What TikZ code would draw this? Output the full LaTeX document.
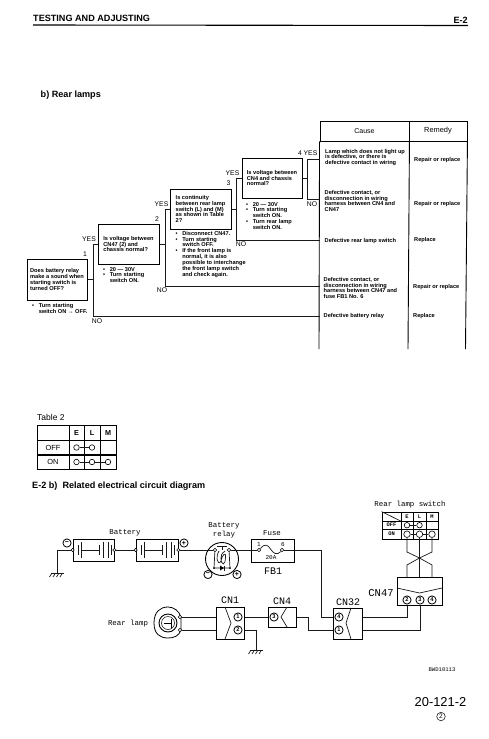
\documentclass[tikz,border=0pt]{standalone}
\usepackage{fontspec}
\setmainfont{Liberation Sans}
\newfontfamily\monof{Liberation Mono}
\newcommand{\blt}{\makebox[6.6pt][l]{•}}
\newcommand{\ind}{\hspace*{6.6pt}}
\newcommand{\gnd}[2]{%
  \draw[wire] (#1-6,#2) -- (#1+7,#2);
  \foreach \k in {-5,-1.5,2,5.5} \draw[wire] (#1+\k,#2) -- (#1+\k-2.5,#2+4);
}
\newcommand{\batplates}[2]{%
  \begin{scope}[shift={(#1,#2)},wire]
    \draw (5,-5) -- (5,5); \draw[line width=1pt] (8,-8) -- (8,8);
    \draw (8,0) -- (26,0);
    \draw (26,-5) -- (26,5); \draw[line width=1pt] (30,-8) -- (30,8);
    \draw (35,-8) -- (35,8); \draw[line width=1pt] (38,-5) -- (38,5);
  \end{scope}}
\tikzset{
  x=1pt,y=-1pt,
  wire/.style={line width=.7pt,black!90},
  flow/.style={line width=.8pt,black!90},
  qbox/.style={draw,line width=1pt,inner sep=0pt,font=\qfont,align=left,anchor=center},
  qtext/.style={font=\qfont,align=left,anchor=north west,inner sep=0pt},
  rowtext/.style={font=\qfont,align=left,anchor=west,inner sep=0pt},
  tag/.style={font=\fontsize{6.8}{7}\selectfont,inner sep=0pt},
  head/.style={font=\fontsize{9.1}{10}\selectfont\bfseries,inner sep=0pt},
  mono/.style={font=\fontsize{7.4}{8}\selectfont\monof,inner sep=0pt},
  cnlab/.style={font=\fontsize{10}{11}\selectfont\monof,inner sep=0pt},
  pin/.style={circle,draw,line width=.8pt,fill=white,inner sep=0pt,minimum size=8.2pt,font=\fontsize{5.6}{6}\selectfont\bfseries},
  term/.style={circle,draw,line width=.55pt,fill=white,inner sep=0pt,minimum size=3.3pt},
  sw/.style={circle,draw,line width=.6pt,fill=white,inner sep=0pt,minimum size=#1},
  cn/.style={draw,line width=.8pt,inner sep=0pt,anchor=north west},
  tb/.style={draw,line width=.8pt,inner sep=0pt,anchor=center,font=\fontsize{7.4}{8}\selectfont},
  tbs/.style={draw,line width=.75pt,inner sep=0pt,anchor=center,font=\fontsize{5.4}{6}\selectfont\monof\bfseries},
}
\newcommand{\qfont}{\fontsize{5.65}{5.85}\selectfont\bfseries}
\begin{document}
\begin{tikzpicture}
\useasboundingbox (0,0) rectangle (489,739);
% header
\node[head,anchor=west] (title) at (33,18.5) {TESTING AND ADJUSTING};
\node[head,anchor=east] (sec) at (468,20) {E-2};
\coordinate (hl) at (33,25); \coordinate (hr) at (468,25.5);
\draw[line width=1.1pt] (hl) -- (hr);
\node[head,anchor=west] (sub) at (40.5,95.5) {b) Rear lamps};
% table cause / remedy
\node[draw,line width=.9pt,minimum width=89,minimum height=20,inner sep=0pt,font=\fontsize{7}{7}\selectfont] (cause) at (364.5,131) {Cause};
\node[draw,line width=.9pt,minimum width=58,minimum height=20,inner sep=0pt,font=\fontsize{7.4}{7}\selectfont] (remedy) at (438,131) {Remedy};
\coordinate (bl) at (319,349); \coordinate (bm) at (408,349); \coordinate (br) at (465.5,349);
\draw[line width=.9pt] (cause.south west) -- (bl);
\draw[line width=.9pt] (cause.south east) -- (bm);
\draw[line width=.9pt] (remedy.south east) -- (br);
% question boxes
\node[qbox,minimum width=60,minimum height=41] (q1) at (57,279.5) {Does battery relay\\make a sound when\\starting switch is\\turned OFF?};
\node[qbox,minimum width=61,minimum height=40] (q2) at (128.5,244) {Is voltage between\\CN47 (2) and\\chassis normal?};
\node[qbox,minimum width=61,minimum height=40] (q3) at (200.5,209) {Is continuity\\between rear lamp\\switch (L) and (M)\\as shown in Table\\2?};
\node[qbox,minimum width=60,minimum height=40] (q4) at (272,178) {Is voltage between\\CN4 and chassis\\normal?};
% notes
\node[qtext] (n1) at (32,303) {\blt Turn starting\\\ind switch ON → OFF.};
\node[qtext] (n2) at (103,267) {\blt 20 — 30V\\\blt Turn starting\\\ind switch ON.};
\node[qtext] (n3) at (175.5,231) {\blt Disconnect CN47.\\\blt Turn starting\\\ind switch OFF.\\\blt If the front lamp is\\\ind normal, it is also\\\ind possible to interchange\\\ind the front lamp switch\\\ind and check again.};
\node[qtext] (n4) at (246,202) {\blt 20 — 30V\\\blt Turn starting\\\ind switch ON.\\\blt Turn rear lamp\\\ind switch ON.};
% flow connectors
\coordinate (j1) at (93,316); \coordinate (j2) at (165,286); \coordinate (j3) at (236,240);
\coordinate (j4y) at (307,159); \coordinate (j4n) at (307,199);
\draw[flow] (q1.east) -- (q1.east -| j1);
\draw[flow] (q2.west) -| (j1) -- (j1 -| cause.west);
\draw[flow] (q2.east) -- (q2.east -| j2);
\draw[flow] (q3.west) -| (j2) -- (j2 -| cause.west);
\draw[flow] (q3.east) -- (q3.east -| j3);
\draw[flow] (q4.west) -| (j3) -- (j3 -| cause.west);
\draw[flow] (q4.east) -- (q4.east -| j4y);
\draw[flow] (j4y -| cause.west) -- (j4y) -- (j4n) -- (j4n -| cause.west);
% flow labels
\node[tag] (y1) at (89,239) {YES}; \node[tag] (k1) at (85,254.5) {1}; \node[tag] (no1) at (97,321) {NO};
\node[tag] (y2) at (161.5,204) {YES}; \node[tag] (k2) at (157,219) {2}; \node[tag] (no2) at (162,290.5) {NO};
\node[tag] (y3) at (232.5,173) {YES}; \node[tag] (k3) at (228.5,183) {3}; \node[tag] (no3) at (241,244.5) {NO};
\node[tag,anchor=east] (y4) at (317.5,153) {4 YES}; \node[tag] (no4) at (312,204.5) {NO};
% causes
\node[rowtext] (c1) at (325,157.5) {Lamp which does not light up\\is defective, or there is\\defective contact in wiring};
\node[rowtext] (c2) at (324.5,201) {Defective contact, or\\disconnection in wiring\\harness between CN4 and\\CN47};
\node[rowtext] (c3) at (324.5,241) {Defective rear lamp switch};
\node[rowtext] (c4) at (323.5,288) {Defective contact, or\\disconnection in wiring\\harness between CN47 and\\fuse FB1 No. 6};
\node[rowtext] (c5) at (323.5,316.5) {Defective battery relay};
\node[rowtext] (r1) at (414,160) {Repair or replace};
\node[rowtext] (r2) at (414,204) {Repair or replace};
\node[rowtext] (r3) at (414,240) {Replace};
\node[rowtext] (r4) at (413,287) {Repair or replace};
\node[rowtext] (r5) at (413,316) {Replace};
% table 2
\node[anchor=west,inner sep=0pt,font=\fontsize{8.5}{9}\selectfont] (t2) at (37,417) {Table 2};
\foreach \nm/\cx/\w/\t in {a/53/32/{},e/76.5/15/E,l/92/16/L,m/108/16/M}
  \node[tb,minimum width=\w,minimum height=14.3,font=\fontsize{7.2}{8}\selectfont\bfseries] (t2\nm0) at (\cx,433) {\t};
\foreach \nm/\cx/\w/\t in {a/53/32/OFF,e/76.5/15/{},l/92/16/{},m/108/16/{}}
  \node[tb,minimum width=\w,minimum height=14.6] (t2\nm1) at (\cx,447.5) {\t};
\foreach \nm/\cx/\w/\t in {a/53/32/ON,e/76.5/15/{},l/92/16/{},m/108/16/{}}
  \node[tb,minimum width=\w,minimum height=14] (t2\nm2) at (\cx,462) {\t};
\node[sw=5.5pt] (o1) at (t2e1.center) {}; \node[sw=5.5pt] (o2) at (t2l1.center) {};
\node[sw=5.5pt] (p1) at (t2e2.center) {}; \node[sw=5.5pt] (p2) at (t2l2.center) {}; \node[sw=5.5pt] (p3) at (t2m2.center) {};
\draw[wire] (o1) -- (o2); \draw[wire] (p1) -- (p2) -- (p3);
\node[head,anchor=west] (sec2) at (32,486) {E-2 b)\ \ Related electrical circuit diagram};
% batteries
\node[draw,line width=.75pt,minimum width=41,minimum height=22,inner sep=0pt] (b1) at (93.5,550) {};
\node[draw,line width=.75pt,minimum width=42,minimum height=22,inner sep=0pt] (b2) at (157,550) {};
\batplates{73}{550}\batplates{136}{550}
\node[mono] (blab) at (125,533) {Battery};
\node[term] (b1l) at (b1.west) {}; \node[term] (b1r) at (b1.east) {};
\node[term] (b2l) at (b2.west) {}; \node[term] (b2r) at (b2.east) {};
\draw[wire] (b1r) -- (b2l);
\node[pin,font=\bfseries\fontsize{7}{7}\selectfont] (bm1) at (67,543) {−};
\node[pin,font=\bfseries\fontsize{7}{7}\selectfont] (bp1) at (184,543) {+};
\coordinate (g1) at (57,573);
\draw[wire] (b1l) -| (g1);
\gnd{57}{573}
% relay
\node[mono,align=center,font=\fontsize{7.4}{8.8}\selectfont\monof] (rlab) at (224,530) {Battery\\relay};
\node[circle,draw,line width=.9pt,minimum size=33pt,inner sep=0pt] (rel) at (222,559) {};
\node[term] (rt1) at (215,550) {}; \node[term] (rt2) at (229,550) {};
\draw[wire] (217,546.5) -- (227,546.5) (222,546.5) -- (222,550);
\draw[wire] (219,551) .. controls (215,557) and (218,567) .. (221,561) .. controls (222,555) and (226,551) .. (225.5,557) .. controls (225.5,566) and (221,566) .. (221,558) .. controls (221,552) and (225,552) .. (225,551);
\draw[wire] (rt1) -- (214,568) -- (230,568) -- (rt2);
\fill (214,568) circle (1pt) (230,568) circle (1pt);
\fill (220,565.5) -- (220,570.5) -- (224,568) -- cycle;
\draw[wire] (224,565.5) -- (224,570.5);
\draw[wire] (b2r) -- (rt1);
\node[pin,font=\bfseries\fontsize{7}{7}\selectfont] (rm) at (208,574.5) {−};
\node[pin,font=\bfseries\fontsize{7}{7}\selectfont] (rp) at (237,574.5) {+};
% fuse
\node[mono] (flab) at (272,533) {Fuse};
\node[draw,line width=.8pt,minimum width=43,minimum height=23,inner sep=0pt] (fuse) at (272.5,550.5) {};
\node[term,minimum size=3.6pt] (f1) at (259,550) {}; \node[term,minimum size=3.6pt] (f2) at (282,550) {};
\draw[wire] (f1) .. controls (265,543) and (268,545) .. (270.5,549) .. controls (273,553) and (277,556) .. (f2);
\node[mono,font=\fontsize{6}{6}\selectfont\monof] (f1t) at (259,544.5) {1};
\node[mono,font=\fontsize{6}{6}\selectfont\monof] (f6t) at (283,544.5) {6};
\node[mono,font=\fontsize{6}{6}\selectfont\monof] (f20) at (271,558) {20A};
\node[cnlab] (fb) at (273,571) {FB1};
\draw[wire] (rt2) -- (f1);
% lamp
\node[mono] (ll) at (128,624) {Rear lamp};
\draw[line width=.8pt] (154,623) .. controls (154,612) and (160,607) .. (168,607) .. controls (174,607) and (179,611) .. (181,617) -- (181,630) .. controls (179,636) and (174,638) .. (168,638) .. controls (160,638) and (154,634) .. (154,623) -- cycle;
\node[circle,draw,line width=.9pt,minimum size=18pt,inner sep=0pt] (lmp) at (168,623) {};
\node[circle,draw,line width=.5pt,minimum size=13pt,inner sep=0pt] (lmpi) at (168,623) {};
\draw[line width=.9pt] (164,623) -- (171,623) (171.5,618.5) -- (171.5,627.5);
\node[term] (l1) at (180,617) {}; \node[term] (l2) at (180,630) {};
% connectors
\node[cn,minimum width=28,minimum height=32] (cn1) at (216,607) {};
\draw[wire] (225,607) -- (231,623) -- (225,639);
\node[pin] (cn1a) at (238,617) {1}; \node[pin] (cn1b) at (238,630) {2};
\node[cnlab] (cn1l) at (230,600) {CN1};
\node[cn,minimum width=28,minimum height=20] (cn4) at (268,607) {};
\draw[wire] (287,607) -- (281,617) -- (287,627);
\node[pin] (cn4a) at (274,617) {3};
\node[cnlab] (cn4l) at (282,601) {CN4};
\node[cn,minimum width=29,minimum height=31] (cn32) at (333,608) {};
\draw[wire] (351,608) -- (346,623) -- (351,639);
\node[pin] (c32a) at (339,617) {4}; \node[pin] (c32b) at (339,630) {1};
\node[cnlab] (c32l) at (348,602) {CN32};
\node[cn,minimum width=45,minimum height=28] (cn47) at (397,577) {};
\draw[wire] (397,588) -- (419.5,593) -- (442,588);
\node[pin] (c47a) at (407,600) {2}; \node[pin] (c47b) at (420,600) {3}; \node[pin] (c47c) at (432,600) {4};
\node[cnlab,font=\fontsize{10.5}{11}\selectfont\monof] (c47l) at (381,593) {CN47};
% wires
\draw[wire] (l1) -- (l1 -| cn1.west);
\draw[wire] (l2) -- (l2 -| cn1.west);
\draw[wire,line width=.9pt] (cn1a -| cn1.east) -- (cn4a -| cn4.west);
\coordinate (gw) at (256,650);
\draw[wire] (cn1b -| cn1.east) -| (gw);
\gnd{256}{650}
\coordinate (w1) at (321,550); \coordinate (w2) at (308,617);
\draw[wire] (f2) -- (w1) |- (c32a -| cn32.west);
\draw[wire] (cn4a -| cn4.east) -- (w2) |- (c32b -| cn32.west);
\coordinate (d1) at (407,617); \coordinate (d2) at (420,630);
\draw[wire] (c32a -| cn32.east) -- (d1) -- (c47a.north |- cn47.south);
\draw[wire] (c32b -| cn32.east) -- (d2) -- (c47b.north |- cn47.south);
% rear lamp switch
\node[mono] (swl) at (410,505) {Rear lamp switch};
\node[tbs,minimum width=19,minimum height=9] (s00) at (391.5,516.5) {};
\draw[wire] (s00.north west) -- (s00.south east);
\foreach \nm/\cx/\w/\t in {e/407/12/E,l/419.5/13/L,m/432/12/M}
  \node[tbs,minimum width=\w,minimum height=9] (s\nm0) at (\cx,516.5) {\t};
\foreach \nm/\cx/\w/\t in {a/391.5/19/OFF,e/407/12/{},l/419.5/13/{},m/432/12/{}}
  \node[tbs,minimum width=\w,minimum height=8.5] (s\nm1) at (\cx,525.2) {\t};
\foreach \nm/\cx/\w/\t in {a/391.5/19/ON,e/407/12/{},l/419.5/13/{},m/432/12/{}}
  \node[tbs,minimum width=\w,minimum height=9.5] (s\nm2) at (\cx,534.2) {\t};
\node[sw=5.5pt] (so1) at (se1.center) {}; \node[sw=5.5pt] (so2) at (sl1.center) {};
\node[sw=6.5pt] (sp1) at (se2.center) {}; \node[sw=6.5pt] (sp2) at (sl2.center) {}; \node[sw=6.5pt] (sp3) at (sm2.center) {};
\draw[wire] (so1) -- (so2); \draw[wire] (sp1) -- (sp2) -- (sp3);
\coordinate (xc) at (419.5,558);
\draw[wire] (sp1) -- (407,552) -- (xc) -- (432,565) -- (432,577);
\draw[wire] (sp3) -- (432,552) -- (xc) -- (407,565) -- (407,577);
\draw[wire] (sp2) -- (419.5,577);
% footer
\node[mono,font=\fontsize{5.6}{6}\selectfont\monof] (code) at (442,669.5) {BWD10113};
\node[inner sep=0pt,font=\fontsize{12.9}{13}\selectfont] (pg) at (440.5,702) {20-121-2};
\node[circle,draw,line width=.5pt,inner sep=0pt,minimum size=8.5pt,font=\fontsize{6.5}{7}\selectfont] (rev) at (441,716.5) {2};
\end{tikzpicture}
\end{document}
